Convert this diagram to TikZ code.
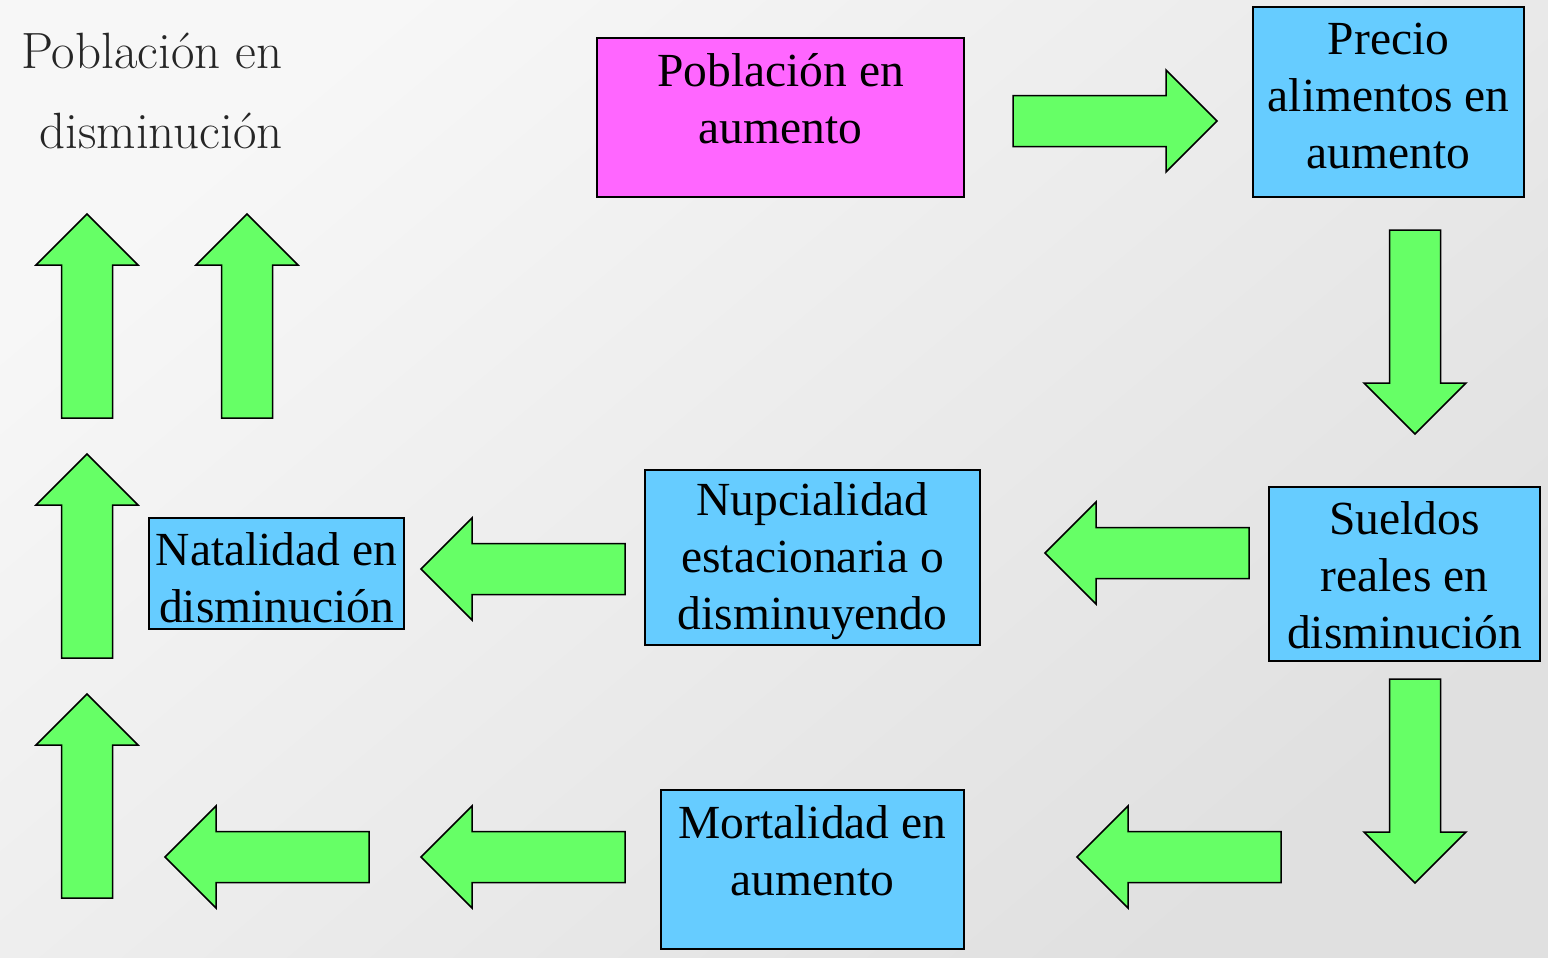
\documentclass[tikz,border=0pt]{standalone}
\usepackage{fontspec}
\newfontfamily\boxfont{Liberation Serif}
\definecolor{boxpink}{HTML}{FF66FF}
\definecolor{boxblue}{HTML}{66CCFF}
\definecolor{arrowgreen}{HTML}{66FF66}
\definecolor{bglight}{HTML}{F7F7F7}
\definecolor{bgdark}{HTML}{E0E0E0}
\definecolor{titlegray}{HTML}{262626}
\begin{document}
\begin{tikzpicture}[x=1pt,y=-1pt,
  box/.style={draw=black, line width=1.5pt, inner sep=0pt},
  pinkbox/.style={box, fill=boxpink},
  bluebox/.style={box, fill=boxblue},
  lbl/.style={font=\boxfont\fontsize{47.5}{57}\selectfont, align=center, inner sep=0pt, text=black},
  barrow/.pic={\draw[fill=arrowgreen, draw=black, line width=1.5pt, line join=miter]
    (0,-25.5) -- (153,-25.5) -- (153,-51) -- (204,0) -- (153,51) -- (153,25.5) -- (0,25.5) -- cycle;}
]
\useasboundingbox (0,0) rectangle (1548,958);
\shade[top color=bglight, bottom color=bgdark, shading angle=40] (0,0) rectangle (1548,958);

% title
\node[font=\fontsize{51}{80}\selectfont, align=right, text=titlegray, inner sep=0pt] (title) at (152,91) {Población en\\disminución};

% boxes
\node[pinkbox, minimum width=367pt, minimum height=159pt] (pop) at (780.5,117.5) {};
\node[lbl] (popT) at (780.5,99) {Población en\\aumento};

\node[bluebox, minimum width=271pt, minimum height=190pt] (precio) at (1388.5,102) {};
\node[lbl] (precioT) at (1388.5,96) {Precio\\alimentos en\\aumento};

\node[bluebox, minimum width=271pt, minimum height=174pt] (sueldos) at (1404.5,574) {};
\node[lbl] (sueldosT) at (1404.5,575) {Sueldos\\reales en\\disminución};

\node[bluebox, minimum width=335pt, minimum height=175pt] (nup) at (812.5,557.5) {};
\node[lbl] (nupT) at (812.5,561) {Nupcialidad\\estacionaria o\\disminuyendo};

\node[bluebox, minimum width=255pt, minimum height=111pt] (nat) at (276.5,573.5) {};
\node[lbl] (natT) at (276.5,578) {Natalidad en\\disminución};

\node[bluebox, minimum width=303pt, minimum height=159pt] (mort) at (812.5,869.5) {};
\node[lbl] (mortT) at (812.5,851) {Mortalidad en\\aumento};

% block arrows
\pic at (1013,121) {barrow};
\pic[rotate=-90] at (1415,230) {barrow};
\pic[rotate=180] at (1249,553) {barrow};
\pic[rotate=180] at (625,569) {barrow};
\pic[rotate=-90] at (1415,679) {barrow};
\pic[rotate=180] at (1281,857) {barrow};
\pic[rotate=180] at (625,857) {barrow};
\pic[rotate=180] at (369,857) {barrow};
\pic[rotate=90] at (87,898) {barrow};
\pic[rotate=90] at (87,658) {barrow};
\pic[rotate=90] at (87,418) {barrow};
\pic[rotate=90] at (247,418) {barrow};
\end{tikzpicture}
\end{document}
